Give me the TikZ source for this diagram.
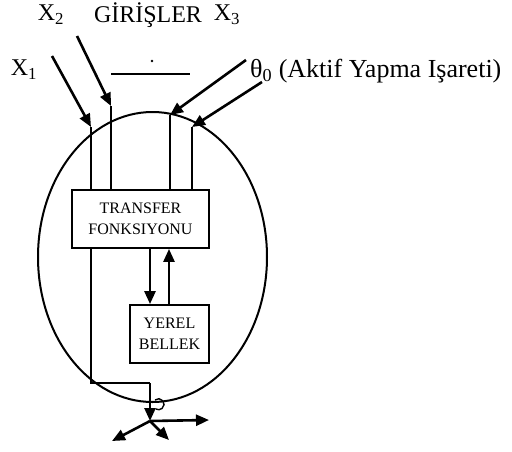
\documentclass[tikz,border=0pt]{standalone}
\usepackage{fontspec}
\setmainfont{Liberation Serif}
\usetikzlibrary{arrows.meta}
\begin{document}
\begin{tikzpicture}[x=1pt,y=-1pt,
  wire/.style={line width=2.6pt},
  sig/.style={line width=2.6pt,-{Triangle[length=13pt,width=11pt]}},
  blk/.style={draw,line width=1.8pt,inner sep=0pt,align=center,font=\fontsize{16}{21}\selectfont},
  lbl/.style={inner sep=0pt,font=\fontsize{24}{27}\selectfont}]
\useasboundingbox (0,0) rectangle (512,451);

% neuron body
\draw[line width=2pt] (152.5,257) ellipse [x radius=114.5, y radius=145];

% blocks
\node[blk,minimum width=137pt,minimum height=58pt] (tf) at (140.5,219) {TRANSFER\\FONKSIYONU};
\node[blk,minimum width=79pt,minimum height=58pt] (mem) at (169.5,334) {YEREL\\BELLEK};

% labels
\node[lbl] (x2) at (51,15) {X\textsubscript{2}};
\node[lbl] (gir) at (148,15) {GİRİŞLER};
\node[lbl] (x3) at (227,15) {X\textsubscript{3}};
\node[lbl] (x1) at (24,70) {X\textsubscript{1}};
\node[lbl,anchor=west,font=\fontsize{26}{28}\selectfont] (th) at (250,71) {θ\textsubscript{0} (Aktif Yapma Işareti)};

% bar under the heading
\coordinate (barl) at (111,74);
\coordinate (barr) at (190,74);
\draw[line width=1.4pt] (barl) -- (barr);
\fill (152,61) circle (1.3pt);

% input entry points
\coordinate (e1) at (91,127);
\coordinate (e2) at (111,106);
\coordinate (e3) at (170,115);
\coordinate (e0) at (192,127);
\coordinate (s1) at (52,56);
\coordinate (s2) at (77,36);
\coordinate (s3) at (246,60);
\coordinate (s0) at (262,82);

\draw[sig] (s1) -- (e1);
\draw[sig] (s2) -- (e2);
\draw[sig] (s3) -- (e3);
\draw[sig] (s0) -- (e0);

\draw[wire] (e1) -- (e1 |- tf.north);
\draw[wire] (e2) -- (e2 |- tf.north);
\draw[wire] (e3) -- (e3 |- tf.north);
\draw[wire] (e0) -- (e0 |- tf.north);

% memory exchange
\draw[sig] (150,0 |- tf.south) -- (150,0 |- mem.north);
\draw[sig] (169,0 |- mem.north) -- (169,0 |- tf.south);

% output path
\coordinate (hub) at (150,421);
\draw[wire] (91,0 |- tf.south) -- (91,383) -- (150,383);
\draw[sig] (150,383) -- (hub);
\draw[line width=1.4pt] (155,400) arc[start angle=130, end angle=-120, radius=5.5pt];

\coordinate (o1) at (112,441);
\coordinate (o2) at (169,440);
\coordinate (o3) at (209,420);
\draw[sig] (hub) -- (o1);
\draw[sig] (hub) -- (o2);
\draw[sig] (hub) -- (o3);
\end{tikzpicture}
\end{document}
